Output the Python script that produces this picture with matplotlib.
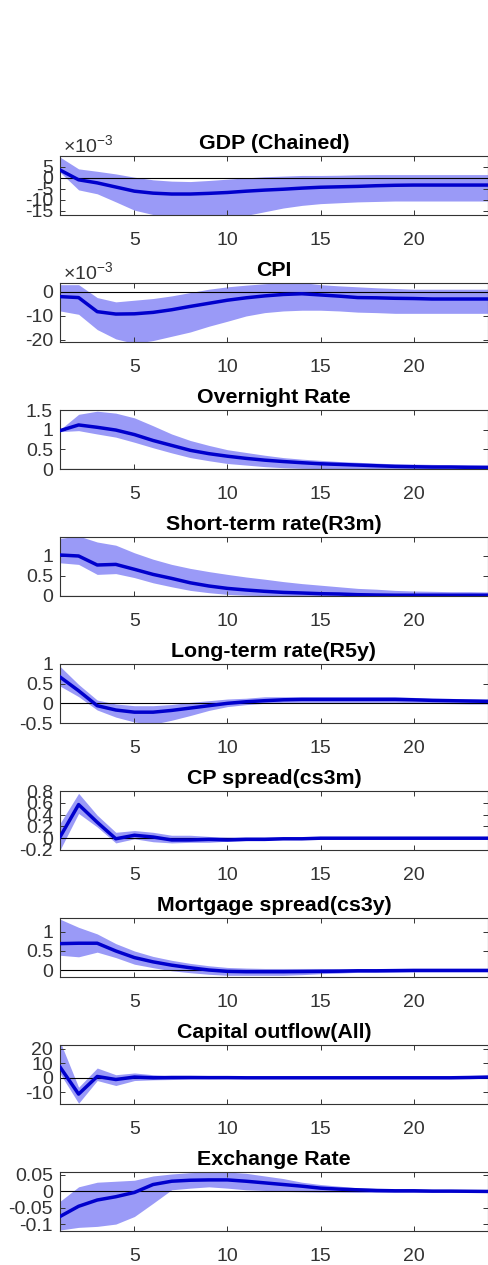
import numpy as np
import matplotlib
matplotlib.use("Agg")
import matplotlib.pyplot as plt
from matplotlib.ticker import FixedLocator, FuncFormatter
import matplotlib.transforms as mtransforms

plt.rcParams['font.family'] = ['Liberation Sans', 'DejaVu Sans']
plt.rcParams['axes.unicode_minus'] = False
plt.rcParams['mathtext.fontset'] = 'custom'
plt.rcParams['mathtext.rm'] = 'Liberation Sans'
plt.rcParams['mathtext.it'] = 'Liberation Sans'

horizon = list(range(1, 25))

titles = ["GDP (Chained)", "CPI", "Overnight Rate", "Short-term rate(R3m)",
          "Long-term rate(R5y)", "CP spread(cs3m)", "Mortgage spread(cs3y)",
          "Capital outflow(All)", "Exchange Rate"]

gdp_med = [3.6e-3, -0.9e-3, -2.3e-3, -4.2e-3, -6.1e-3, -7.0e-3, -7.4e-3, -7.4e-3, -7.1e-3, -6.7e-3, -6.1e-3, -5.6e-3,
           -5.2e-3, -4.7e-3, -4.3e-3, -4.1e-3, -3.9e-3, -3.6e-3, -3.4e-3, -3.3e-3, -3.3e-3, -3.3e-3, -3.3e-3, -3.3e-3]
gdp_hi = [9.5e-3, 4.1e-3, 3.0e-3, 1.8e-3, 0.3e-3, -0.9e-3, -1.5e-3, -1.7e-3, -1.2e-3, -0.6e-3, 0.0, 0.5e-3,
          0.8e-3, 1.1e-3, 1.1e-3, 1.2e-3, 1.4e-3, 1.5e-3, 1.5e-3, 1.5e-3, 1.5e-3, 1.5e-3, 1.5e-3, 1.5e-3]
gdp_lo = [2.6e-3, -5.5e-3, -7.3e-3, -11.0e-3, -14.8e-3, -16.8e-3, -17.5e-3, -17.8e-3, -17.8e-3, -17.5e-3, -17.2e-3, -15.5e-3,
          -13.8e-3, -12.6e-3, -11.8e-3, -11.4e-3, -11.0e-3, -10.8e-3, -10.6e-3, -10.6e-3, -10.6e-3, -10.6e-3, -10.6e-3, -10.6e-3]

cpi_med = [-2.0e-3, -2.4e-3, -8.3e-3, -9.3e-3, -9.2e-3, -8.6e-3, -7.5e-3, -6.1e-3, -4.8e-3, -3.5e-3, -2.5e-3, -1.7e-3,
           -1.1e-3, -0.8e-3, -1.3e-3, -1.8e-3, -2.4e-3, -2.5e-3, -2.7e-3, -2.8e-3, -3.0e-3, -3.0e-3, -3.0e-3, -3.0e-3]
cpi_hi = [3.0e-3, 3.0e-3, -2.4e-3, -4.2e-3, -3.5e-3, -2.8e-3, -1.7e-3, -0.3e-3, 1.1e-3, 2.1e-3, 2.8e-3, 3.4e-3,
          3.9e-3, 3.9e-3, 3.0e-3, 2.5e-3, 2.1e-3, 1.7e-3, 1.4e-3, 1.1e-3, 1.1e-3, 1.1e-3, 1.1e-3, 1.1e-3]
cpi_lo = [-8.0e-3, -9.4e-3, -15.8e-3, -19.7e-3, -21.6e-3, -20.4e-3, -18.6e-3, -16.8e-3, -14.4e-3, -12.3e-3, -10.1e-3, -8.7e-3,
          -8.0e-3, -7.7e-3, -7.7e-3, -8.0e-3, -8.5e-3, -8.7e-3, -9.0e-3, -9.0e-3, -9.0e-3, -9.0e-3, -9.0e-3, -9.0e-3]

ovn_med = [0.975, 1.12, 1.06, 0.99, 0.875, 0.725, 0.60, 0.475, 0.39, 0.325, 0.27, 0.225,
           0.19, 0.16, 0.133, 0.117, 0.10, 0.083, 0.067, 0.058, 0.05, 0.05, 0.042, 0.04]
ovn_hi = [1.0, 1.39, 1.47, 1.42, 1.3, 1.1, 0.89, 0.725, 0.6, 0.49, 0.42, 0.35,
          0.29, 0.25, 0.22, 0.19, 0.17, 0.15, 0.13, 0.125, 0.117, 0.108, 0.108, 0.1]
ovn_lo = [0.95, 0.975, 0.89, 0.81, 0.68, 0.54, 0.41, 0.29, 0.21, 0.14, 0.10, 0.06,
          0.033, 0.017, 0.01, 0.0, 0.0, -0.01, -0.01, -0.01, -0.01, -0.01, -0.01, -0.01]

sr_med = [1.025, 1.0, 0.775, 0.79, 0.667, 0.54, 0.44, 0.33, 0.25, 0.19, 0.15, 0.117,
          0.09, 0.075, 0.058, 0.05, 0.033, 0.025, 0.02, 0.02, 0.02, 0.02, 0.02, 0.02]
sr_hi = [1.44, 1.5, 1.35, 1.27, 1.08, 0.92, 0.79, 0.69, 0.61, 0.54, 0.475, 0.42,
         0.36, 0.31, 0.27, 0.23, 0.19, 0.17, 0.14, 0.125, 0.117, 0.108, 0.108, 0.1]
sr_lo = [0.83, 0.79, 0.54, 0.56, 0.46, 0.33, 0.23, 0.14, 0.083, 0.04, 0.02, 0.01,
         0.0, -0.01, -0.01, -0.01, -0.01, -0.01, -0.01, -0.01, -0.01, -0.01, -0.01, -0.01]

lt_med = [0.67, 0.32, -0.06, -0.17, -0.225, -0.225, -0.18, -0.12, -0.06, 0.0, 0.04, 0.067,
          0.09, 0.1, 0.1, 0.1, 0.1, 0.1, 0.1, 0.09, 0.075, 0.067, 0.058, 0.05]
lt_hi = [0.94, 0.48, 0.083, -0.017, -0.06, -0.06, -0.03, 0.025, 0.067, 0.11, 0.13, 0.167,
         0.167, 0.167, 0.167, 0.167, 0.167, 0.167, 0.167, 0.15, 0.13, 0.125, 0.117, 0.108]
lt_lo = [0.44, 0.17, -0.17, -0.35, -0.475, -0.53, -0.43, -0.31, -0.18, -0.083, -0.033, 0.0,
         0.025, 0.025, 0.025, 0.025, 0.025, 0.025, 0.025, 0.017, 0.0, -0.008, -0.017, -0.017]

cp_med = [0.02, 0.57, 0.27, -0.01, 0.05, 0.02, -0.03, -0.03, -0.02, -0.03, -0.02, -0.02,
          -0.01, -0.01, 0.0, 0.0, 0.0, 0.0, 0.0, 0.0, 0.0, 0.0, 0.0, 0.0]
cp_hi = [0.25, 0.76, 0.39, 0.10, 0.13, 0.10, 0.05, 0.05, 0.03, 0.02, 0.02, 0.02,
         0.02, 0.02, 0.02, 0.02, 0.02, 0.02, 0.02, 0.02, 0.02, 0.02, 0.02, 0.02]
cp_lo = [-0.2, 0.42, 0.19, -0.08, -0.01, -0.06, -0.08, -0.07, -0.07, -0.05, -0.04, -0.03,
         -0.02, -0.02, -0.02, -0.02, -0.02, -0.02, -0.02, -0.02, -0.02, -0.02, -0.02, -0.02]

mort_med = [0.69, 0.70, 0.70, 0.5, 0.33, 0.22, 0.135, 0.068, 0.01, -0.025, -0.034, -0.034,
            -0.034, -0.03, -0.025, -0.02, -0.01, -0.01, -0.005, 0.0, 0.0, 0.0, 0.0, 0.0]
mort_hi = [1.32, 1.11, 0.94, 0.69, 0.5, 0.36, 0.26, 0.18, 0.12, 0.076, 0.06, 0.05,
           0.05, 0.05, 0.05, 0.045, 0.04, 0.04, 0.035, 0.035, 0.03, 0.03, 0.03, 0.03]
mort_lo = [0.39, 0.35, 0.47, 0.33, 0.16, 0.07, -0.01, -0.06, -0.1, -0.127, -0.127, -0.127,
           -0.127, -0.11, -0.085, -0.07, -0.05, -0.05, -0.045, -0.04, -0.04, -0.04, -0.04, -0.04]

cap_med = [7.4, -11.2, 0.9, -1.2, 0.5, 0.0, 0.2, 0.2, 0.1, 0.1, 0.0, 0.0,
           0.0, 0.0, 0.0, 0.0, 0.0, 0.0, 0.0, 0.0, 0.0, 0.0, 0.2, 0.5]
cap_hi = [25.0, -6.5, 6.7, 2.1, 3.3, 2.1, 1.2, 0.9, 0.7, 0.6, 0.5, 0.5,
          0.5, 0.5, 0.5, 0.5, 0.5, 0.5, 0.5, 0.5, 0.5, 0.5, 0.6, 0.9]
cap_lo = [3.0, -17.5, -1.9, -5.3, -1.9, -1.4, -1.2, -0.8, -0.6, -0.5, -0.5, -0.5,
          -0.5, -0.5, -0.5, -0.5, -0.5, -0.5, -0.5, -0.5, -0.5, -0.5, -0.3, 0.1]

exc_med = [-0.076, -0.045, -0.026, -0.016, -0.003, 0.021, 0.031, 0.034, 0.035, 0.035, 0.031, 0.026,
           0.021, 0.016, 0.010, 0.007, 0.005, 0.003, 0.002, 0.002, 0.001, 0.001, 0.0005, 0.0]
exc_hi = [-0.03, 0.014, 0.028, 0.031, 0.034, 0.047, 0.053, 0.057, 0.059, 0.059, 0.055, 0.047,
          0.039, 0.028, 0.021, 0.016, 0.011, 0.009, 0.007, 0.007, 0.006, 0.005, 0.004, 0.003]
exc_lo = [-0.117, -0.109, -0.106, -0.099, -0.076, -0.036, 0.005, 0.010, 0.014, 0.010, 0.005, 0.003,
          0.0, -0.001, -0.002, -0.002, -0.003, -0.003, -0.003, -0.003, -0.003, -0.003, -0.003, -0.003]

series = [(gdp_med, gdp_lo, gdp_hi), (cpi_med, cpi_lo, cpi_hi), (ovn_med, ovn_lo, ovn_hi),
          (sr_med, sr_lo, sr_hi), (lt_med, lt_lo, lt_hi), (cp_med, cp_lo, cp_hi),
          (mort_med, mort_lo, mort_hi), (cap_med, cap_lo, cap_hi), (exc_med, exc_lo, exc_hi)]

yticks = [[-0.015, -0.01, -0.005, 0, 0.005], [-0.02, -0.01, 0], [0, 0.5, 1, 1.5], [0, 0.5, 1],
          [-0.5, 0, 0.5, 1], [-0.2, 0, 0.2, 0.4, 0.6, 0.8], [0, 0.5, 1], [-10, 0, 10, 20],
          [-0.1, -0.05, 0, 0.05]]
ylims = [(-0.017, 0.010), (-0.021, 0.0037), (0, 1.5), (0, 1.475), (-0.5, 1.0), (-0.2, 0.8),
         (-0.17, 1.35), (-18, 22.5), (-0.12, 0.059)]
scaled = [True, True, False, False, False, False, False, False, False]
xticks = [5, 10, 15, 20]

W, H = 489, 1265
fig = plt.figure(figsize=(W / 100, H / 100), dpi=100)

band_color = '#9a9af7'
line_color = '#0000cc'
axis_color = '#333333'

def fmt_plain(v, pos):
    return '%g' % v

def fmt_milli(v, pos):
    return '%g' % round(v * 1000, 6)

for i in range(9):
    top_px = 156 + 127 * i
    left, right = 60, 488
    ax = fig.add_axes([left / W, 1 - (top_px + 59) / H, (right - left) / W, 59 / H])
    med, lo, hi = series[i]
    ax.fill_between(horizon, lo, hi, color=band_color, linewidth=0, zorder=1)
    ax.axhline(0, color='black', linewidth=0.8, zorder=2)
    ax.plot(horizon, med, color=line_color, linewidth=2.5, zorder=3)
    ax.set_xlim(1, 24)
    ax.set_ylim(*ylims[i])
    ax.xaxis.set_major_locator(FixedLocator(xticks))
    ax.yaxis.set_major_locator(FixedLocator(yticks[i]))
    ax.yaxis.set_major_formatter(FuncFormatter(fmt_milli if scaled[i] else fmt_plain))
    ax.tick_params(direction='in', top=True, right=True, length=3.5, width=0.7,
                   labelsize=14, colors=axis_color)
    ax.tick_params(axis='x', pad=12.5)
    ax.tick_params(axis='y', pad=5)
    for sp in ax.spines.values():
        sp.set_color(axis_color)
        sp.set_linewidth(0.8)
    ax.set_title(titles[i], fontsize=15.4, fontweight='bold', pad=5, color='black')
    if scaled[i]:
        trans = mtransforms.offset_copy(ax.transAxes, fig=fig, x=2, y=3, units='points')
        ax.text(0, 1, r'$\times10^{-3}$', transform=trans, fontsize=14,
                color=axis_color, ha='left', va='baseline')

fig.savefig('out.png', dpi=100)
